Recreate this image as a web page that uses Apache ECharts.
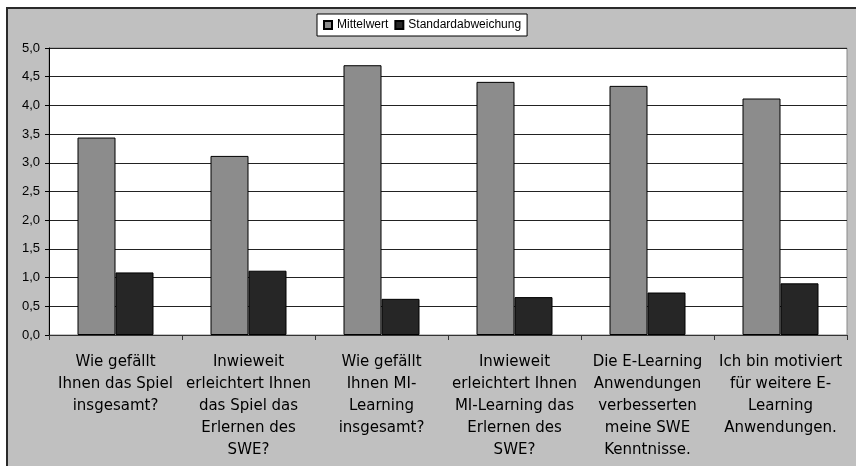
<!DOCTYPE html>
<html>
<head>
<meta charset="utf-8">
<script src="https://cdn.jsdelivr.net/npm/echarts@6/dist/echarts.min.js"></script>
<style>
  html, body { margin: 0; padding: 0; background: #fff; }
  #main { width: 856px; height: 466px; }
</style>
</head>
<body>
<div id="main"></div>
<script>
const categories = [
  'Wie gefällt\nIhnen das Spiel\ninsgesamt?',
  'Inwieweit\nerleichtert Ihnen\ndas Spiel das\nErlernen des\nSWE?',
  'Wie gefällt\nIhnen MI-\nLearning\ninsgesamt?',
  'Inwieweit\nerleichtert Ihnen\nMI-Learning das\nErlernen des\nSWE?',
  'Die E-Learning\nAnwendungen\nverbesserten\nmeine SWE\nKenntnisse.',
  'Ich bin motiviert\nfür weitere E-\nLearning\nAnwendungen.'
];
const mittelwert = [3.44, 3.12, 4.70, 4.41, 4.34, 4.12];
const standardabweichung = [1.09, 1.12, 0.63, 0.66, 0.74, 0.90];
const yTickLabels = ['0,0', '0,5', '1,0', '1,5', '2,0', '2,5', '3,0', '3,5', '4,0', '4,5', '5,0'];

const chart = echarts.init(document.getElementById('main'), null, { renderer: 'canvas' });

const option = {
  backgroundColor: '#fff',
  animation: false,
  graphic: [
    {
      type: 'rect',
      z: -10,
      shape: { x: 7, y: 8, width: 900, height: 500 },
      style: { fill: '#c0c0c0', stroke: '#2a2a2a', lineWidth: 2 }
    }
  ],
  legend: {
    left: 317,
    top: 14,
    padding: [5, 6],
    icon: 'rect',
    itemWidth: 8,
    itemHeight: 8,
    itemGap: 6,
    backgroundColor: '#fff',
    borderColor: '#000',
    borderWidth: 1,
    textStyle: { fontFamily: 'Liberation Sans', fontSize: 12, color: '#000' },
    data: ['Mittelwert', 'Standardabweichung']
  },
  grid: {
    left: 49,
    right: 9,
    top: 48,
    bottom: 131,
    show: true,
    backgroundColor: '#fff',
    borderColor: '#888',
    borderWidth: 1
  },
  xAxis: {
    type: 'category',
    data: categories,
    axisLine: { lineStyle: { color: '#333', width: 1 } },
    axisTick: { show: true, inside: false, length: 5, lineStyle: { color: '#333' } },
    axisLabel: {
      interval: 0,
      margin: 16,
      fontFamily: 'DejaVu Sans',
      fontSize: 15,
      lineHeight: 22,
      color: '#000',
      align: 'center'
    }
  },
  yAxis: {
    type: 'value',
    min: 0,
    max: 5,
    interval: 0.5,
    axisLine: { show: true, lineStyle: { color: '#000', width: 1 } },
    axisTick: { show: true, length: 4, lineStyle: { color: '#000' } },
    splitLine: { lineStyle: { color: '#222', width: 1 } },
    axisLabel: {
      margin: 9,
      fontFamily: 'Liberation Sans',
      fontSize: 13,
      color: '#000',
      formatter: function (v) { return yTickLabels[Math.round(v / 0.5)]; }
    }
  },
  series: [
    {
      name: 'Mittelwert',
      type: 'bar',
      data: mittelwert,
      barWidth: 38,
      barGap: '0%',
      itemStyle: { color: '#8c8c8c', borderColor: '#000', borderWidth: 1 }
    },
    {
      name: 'Standardabweichung',
      type: 'bar',
      data: standardabweichung,
      barWidth: 38,
      barGap: '0%',
      itemStyle: { color: '#262626', borderColor: '#000', borderWidth: 1 }
    }
  ]
};

chart.setOption(option);
</script>
</body>
</html>
